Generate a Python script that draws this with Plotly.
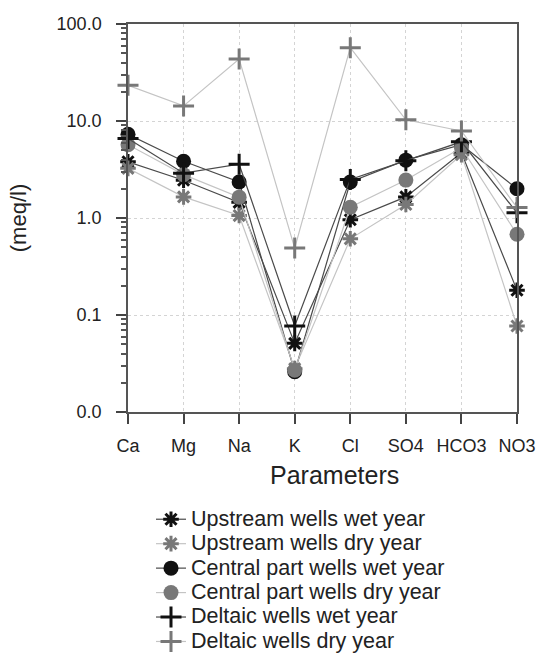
import plotly.graph_objects as go

parameters = ["Ca", "Mg", "Na", "K", "Cl", "SO4", "HCO3", "NO3"]

upstream_wet = [3.8, 2.45, 1.45, 0.051, 0.96, 1.65, 4.7, 0.18]
upstream_dry = [3.25, 1.65, 1.06, 0.028, 0.61, 1.38, 4.5, 0.077]
central_wet = [7.3, 3.85, 2.35, 0.026, 2.35, 3.95, 5.7, 2.0]
central_dry = [5.7, 2.8, 1.64, 0.027, 1.29, 2.46, 5.3, 0.68]
deltaic_wet = [6.6, 2.9, 3.58, 0.077, 2.5, 3.9, 6.1, 1.13]
deltaic_dry = [23.3, 14.3, 43.5, 0.49, 57.0, 10.3, 7.9, 1.28]

names = [
    "Upstream wells wet year",
    "Upstream wells dry year",
    "Central part wells wet year",
    "Central part wells dry year",
    "Deltaic wells wet year",
    "Deltaic wells dry year",
]

series = [upstream_wet, upstream_dry, central_wet, central_dry, deltaic_wet, deltaic_dry]

WET_MARK = "#111111"
DRY_MARK = "#787878"
WET_LINE = "#4a4a4a"
DRY_LINE = "#c4c4c4"

styles = [
    dict(symbol="asterisk", size=13, wet=True),
    dict(symbol="asterisk", size=13, wet=False),
    dict(symbol="circle", size=15, wet=True),
    dict(symbol="circle", size=15, wet=False),
    dict(symbol="cross-thin", size=15, wet=True),
    dict(symbol="cross-thin", size=15, wet=False),
]

fig = go.Figure()
for name, vals, st in zip(names, series, styles):
    mc = WET_MARK if st["wet"] else DRY_MARK
    lc = WET_LINE if st["wet"] else DRY_LINE
    if st["symbol"] == "circle":
        marker = dict(symbol="circle", size=st["size"], color=mc, line=dict(width=0))
    else:
        marker = dict(symbol=st["symbol"], size=st["size"], color=mc,
                      line=dict(width=3, color=mc))
    fig.add_trace(go.Scatter(
        x=parameters, y=vals,
        name='<span style="font-size:21.5px">' + name + "</span>",
        mode="lines+markers",
        line=dict(color=lc, width=1.2), marker=marker, cliponaxis=False,
    ))

minor_vals = [m * 10 ** e for e in range(-2, 2) for m in range(2, 10)]

PLOT_L, PLOT_R, PLOT_T, PLOT_B = 128, 517, 24, 412
plot_h = PLOT_B - PLOT_T
plot_w = PLOT_R - PLOT_L

fig.update_layout(
    width=544, height=655,
    margin=dict(l=PLOT_L, r=544 - PLOT_R, t=PLOT_T, b=655 - PLOT_B, autoexpand=False),
    paper_bgcolor="white", plot_bgcolor="white",
    font=dict(family="Liberation Sans, Arial, sans-serif", color="#222222"),
    showlegend=True,
    legend=dict(
        x=(151 - PLOT_L) / plot_w, xanchor="left",
        y=(PLOT_B - 502) / plot_h, yanchor="top",
        font=dict(size=16.5, color="#222222"),
        tracegroupgap=0, bgcolor="rgba(0,0,0,0)",
    ),
    xaxis=dict(
        type="category", range=[0, 7],
        showline=True, linecolor="#555555", linewidth=1.5, mirror=True,
        ticks="outside", ticklen=10, tickcolor="#444444", tickwidth=1.5,
        showgrid=True, gridcolor="#d4d4d4", griddash="dot", gridwidth=1,
        tickfont=dict(size=18), ticklabelstandoff=7, zeroline=False,
    ),
    yaxis=dict(
        type="log", range=[-2, 2],
        tickvals=[0.01, 0.1, 1, 10, 100],
        ticktext=["0.0", "0.1", "1.0", "10.0", "100.0"],
        showline=True, linecolor="#555555", linewidth=1.5, mirror=True,
        ticks="outside", ticklen=10, tickcolor="#444444", tickwidth=1.5,
        showgrid=True, gridcolor="#d4d4d4", griddash="dot", gridwidth=1,
        tickfont=dict(size=18), ticklabelstandoff=11, zeroline=False,
        minor=dict(tickvals=minor_vals, ticks="outside", ticklen=5,
                   tickcolor="#555555", showgrid=False),
        title=dict(text="(meq/l)", font=dict(size=22), standoff=24),
    ),
    annotations=[dict(
        text="Parameters", xref="paper", yref="paper",
        x=(334 - PLOT_L) / plot_w, y=(PLOT_B - 475) / plot_h,
        xanchor="center", yanchor="middle", showarrow=False,
        font=dict(size=25, color="#222222"),
    )],
)

fig.write_html("out.html")
